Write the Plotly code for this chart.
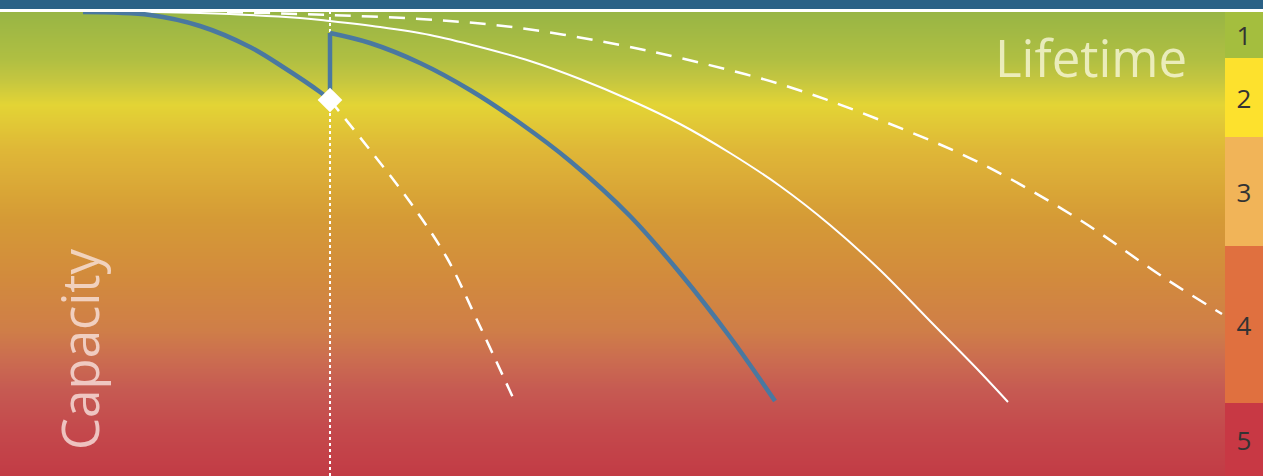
import plotly.graph_objects as go

# ---------------- data (x = lifetime units, y = capacity units) ----------------
# blue: ageing before intervention
blue_pre_x = [83, 150, 200, 250, 283, 320, 330]
blue_pre_y = [464, 461, 450, 429, 409, 384, 376]
# blue: jump after intervention
blue_jump_x = [330, 330]
blue_jump_y = [376, 443]
# blue: ageing after intervention
blue_post_x = [330, 370, 420, 470, 520, 570, 630, 680, 730, 775]
blue_post_y = [443, 433, 413, 386, 353, 315, 260, 203, 139, 75]
# white solid reference
white_x = [85, 200, 300, 330, 380, 430, 480, 530, 580, 630, 680, 730, 780, 830, 880, 930, 980, 1008]
white_y = [465, 463, 458, 455, 449, 441, 429, 415, 397, 376, 352, 323, 290, 251, 206, 155, 104, 74]
# white dashed upper
dash_up_x = [227, 330, 437, 520, 620, 680, 783, 880, 980, 1080, 1163, 1222]
dash_up_y = [464, 461, 456, 448, 431, 418, 391, 356, 313, 256, 199, 162]
# white dashed lower (without intervention)
dash_lo_x = [330, 370, 410, 447, 477, 515]
dash_lo_y = [376, 326, 274, 218, 156, 74]
# intervention point
point_x = [330]
point_y = [376]

# condition classes band
class_labels = ["1", "2", "3", "4", "5"]
class_base = [418, 339, 230, 73, 0]
class_height = [46, 79, 109, 157, 73]
class_colors = ["#a4be3e", "#fde12d", "#f1b458", "#e0703f", "#c83844"]

# background gradient stops (capacity value -> colour)
grad_vals = [464, 416, 396, 371, 326, 256, 196, 146, 116, 86, 46, 0]
grad_cols = ["#98b545", "#b0bf42", "#c4c640", "#e3d435", "#dfb737", "#d59a36",
             "#d28a3d", "#cf7e48", "#cb6c50", "#c65a52", "#c4494c", "#c23b45"]

# ---------------- figure ----------------
fig = go.Figure()

zmin, zmax = 0, 464
cs = [[(v - zmin) / (zmax - zmin), c] for v, c in sorted(zip(grad_vals, grad_cols))]
rows = list(range(0, 464))
fig.add_trace(go.Heatmap(
    x0=612.5, dx=1225, y=[r + 0.5 for r in rows], z=[[r + 0.5] for r in rows],
    zmin=zmin, zmax=zmax, colorscale=cs, showscale=False,
    hoverinfo="skip",
))

fig.add_trace(go.Bar(
    x=[1244] * 5, y=class_height, base=class_base, width=38,
    marker=dict(color=class_colors, line=dict(width=0)),
    text=class_labels, textposition="inside", insidetextanchor="middle",
    textangle=0, constraintext="none",
    textfont=dict(color="#333333", size=26, family="Open Sans"),
    hoverinfo="skip", showlegend=False,
))

line_kw = dict(mode="lines", hoverinfo="skip", showlegend=False)
fig.add_trace(go.Scatter(x=[330, 330], y=[0, 464],
                         line=dict(color="white", width=2, dash="dot"), **line_kw))
fig.add_trace(go.Scatter(x=dash_up_x, y=dash_up_y, line_shape="spline",
                         line=dict(color="white", width=2.5, dash="16px,11px"), **line_kw))
fig.add_trace(go.Scatter(x=white_x, y=white_y, line_shape="spline",
                         line=dict(color="white", width=2), **line_kw))
fig.add_trace(go.Scatter(x=dash_lo_x, y=dash_lo_y, line_shape="spline",
                         line=dict(color="white", width=2.5, dash="14px,10px"), **line_kw))
fig.add_trace(go.Scatter(x=blue_pre_x, y=blue_pre_y, line_shape="spline",
                         line=dict(color="#4a78a0", width=4.5), **line_kw))
fig.add_trace(go.Scatter(x=blue_jump_x, y=blue_jump_y,
                         line=dict(color="#4a78a0", width=4.5), **line_kw))
fig.add_trace(go.Scatter(x=blue_post_x, y=blue_post_y, line_shape="spline",
                         line=dict(color="#4a78a0", width=4.5), **line_kw))
fig.add_trace(go.Scatter(x=point_x, y=point_y, mode="markers", hoverinfo="skip",
                         showlegend=False,
                         marker=dict(symbol="diamond", size=19, color="white",
                                     line=dict(width=0))))

# header
fig.add_shape(type="rect", x0=0, x1=1263, y0=467, y1=476, xref="x", yref="y",
              fillcolor="#2a6186", line_width=0, layer="above")
fig.add_shape(type="rect", x0=0, x1=1263, y0=464, y1=467, xref="x", yref="y",
              fillcolor="white", line_width=0, layer="above")

fig.add_annotation(x=1189, y=419, xref="x", yref="y", text="Lifetime",
                   showarrow=False, xanchor="right", yanchor="middle",
                   font=dict(family="Open Sans", size=51, color="rgba(250,248,220,0.78)"))
fig.add_annotation(x=79, y=126, xref="x", yref="y", text="Capacity",
                   showarrow=False, textangle=-90, xanchor="center", yanchor="middle",
                   font=dict(family="Open Sans", size=51, color="rgba(250,230,225,0.78)"))

fig.update_layout(
    width=1263, height=476,
    margin=dict(l=0, r=0, t=0, b=0),
    paper_bgcolor="white", plot_bgcolor="white",
    xaxis=dict(range=[0, 1263], visible=False, fixedrange=True),
    yaxis=dict(range=[0, 476], visible=False, fixedrange=True),
    bargap=0, showlegend=False,
)

fig.write_html(
    "out.html",
    config={"displayModeBar": False},
    post_script="document.body.style.margin='0px';document.body.style.overflow='hidden';",
)
